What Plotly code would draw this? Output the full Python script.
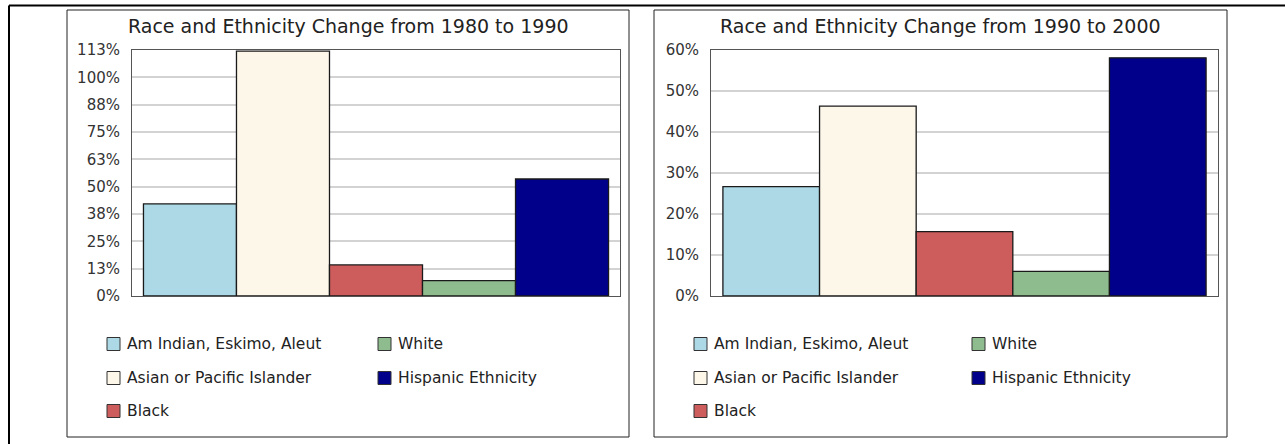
import plotly.graph_objects as go

# ---- data -------------------------------------------------------------
groups = ["Am Indian, Eskimo, Aleut", "Asian or Pacific Islander", "Black",
          "White", "Hispanic Ethnicity"]
colors = ["#ADD8E6", "#FDF7EA", "#CD5C5C", "#8FBC8F", "#00008B"]

change_1980_1990 = [42.1, 112.0, 14.2, 7.0, 53.5]
change_1990_2000 = [26.7, 46.3, 15.7, 6.0, 58.1]

ticks_1980_1990 = [0, 12.5, 25, 37.5, 50, 62.5, 75, 87.5, 100, 112.5]
ticklabels_1980_1990 = ["0%", "13%", "25%", "38%", "50%", "63%", "75%",
                        "88%", "100%", "113%"]
ticks_1990_2000 = [0, 10, 20, 30, 40, 50, 60]
ticklabels_1990_2000 = ["0%", "10%", "20%", "30%", "40%", "50%", "60%"]

titles = ["Race and Ethnicity Change from 1980 to 1990",
          "Race and Ethnicity Change from 1990 to 2000"]

# ---- page geometry (pixels) -------------------------------------------
W, H = 1285, 444
FONT = "DejaVu Sans"


def px(x):
    return x / W


def py(y):
    return 1 - y / H


fig = go.Figure()

panels = [
    dict(values=change_1980_1990, ticks=ticks_1980_1990,
         labels=ticklabels_1980_1990, rng=[0, 112.5],
         box=(67, 629), plot=(132, 620),
         leg_cols=(107, 378)),
    dict(values=change_1990_2000, ticks=ticks_1990_2000,
         labels=ticklabels_1990_2000, rng=[0, 60],
         box=(654, 1227), plot=(711, 1218),
         leg_cols=(694, 972)),
]

PLOT_TOP, PLOT_BOTTOM = 50, 296
BOX_TOP, BOX_BOTTOM = 10, 437

shapes = []
annotations = []

for i, p in enumerate(panels, start=1):
    xa = "x" if i == 1 else f"x{i}"
    ya = "y" if i == 1 else f"y{i}"
    for name, val, col in zip(groups, p["values"], colors):
        fig.add_trace(go.Bar(
            x=[""], y=[val], name=name, xaxis=xa, yaxis=ya,
            marker=dict(color=col, line=dict(color="#1a1a1a", width=1.3)),
            showlegend=False, hoverinfo="name+y",
        ))

    axis_common = dict(showline=True, mirror=True, linecolor="#555555",
                       linewidth=1, zeroline=False, automargin=False)
    fig.update_layout(**{
        ("xaxis" if i == 1 else f"xaxis{i}"): dict(
            domain=[px(p["plot"][0]), px(p["plot"][1])],
            anchor=ya, range=[-0.5, 0.5], showticklabels=False,
            showgrid=False, fixedrange=True, **axis_common),
        ("yaxis" if i == 1 else f"yaxis{i}"): dict(
            domain=[py(PLOT_BOTTOM), py(PLOT_TOP)],
            anchor=xa, range=p["rng"], tickmode="array",
            tickvals=p["ticks"], ticktext=p["labels"],
            showgrid=True, gridcolor="#D3D3D3", gridwidth=1.5,
            ticks="", ticklabelstandoff=8,
            tickfont=dict(family=FONT, size=15, color="#333333"),
            fixedrange=True, **axis_common),
    })

    # panel frame
    x0, x1 = p["box"]
    shapes.append(dict(type="rect", xref="paper", yref="paper",
                       x0=px(x0), x1=px(x1), y0=py(BOX_BOTTOM), y1=py(BOX_TOP),
                       line=dict(color="#222222", width=1), layer="below"))
    # title
    annotations.append(dict(text=titles[i - 1], xref="paper", yref="paper",
                            x=px((x0 + x1) / 2), y=py(26), showarrow=False,
                            xanchor="center", yanchor="middle",
                            font=dict(family=FONT, size=19, color="#222222")))

    # legend: two columns, filled column by column
    rows = [344, 378, 411]
    for k, (name, col) in enumerate(zip(groups, colors)):
        c, r = divmod(k, 3)
        sx = p["leg_cols"][c]
        sy = rows[r]
        shapes.append(dict(type="rect", xref="paper", yref="paper",
                           x0=px(sx), x1=px(sx + 13),
                           y0=py(sy + 6.5), y1=py(sy - 6.5),
                           fillcolor=col, line=dict(color="#333333", width=1)))
        annotations.append(dict(text=name, xref="paper", yref="paper",
                                x=px(sx + 18), y=py(sy), showarrow=False,
                                xanchor="left", yanchor="middle",
                                font=dict(family=FONT, size=15.5,
                                          color="#222222")))

# outer page frame (top and left edges)
shapes.append(dict(type="line", xref="paper", yref="paper",
                   x0=px(9), x1=1, y0=py(5.5), y1=py(5.5),
                   line=dict(color="black", width=2)))
shapes.append(dict(type="line", xref="paper", yref="paper",
                   x0=px(9), x1=px(9), y0=py(5.5), y1=0,
                   line=dict(color="black", width=2)))

fig.update_layout(
    width=W, height=H,
    margin=dict(l=0, r=0, t=0, b=0, autoexpand=False),
    paper_bgcolor="white", plot_bgcolor="white",
    barmode="group", bargap=0.047, bargroupgap=0,
    showlegend=False, shapes=shapes, annotations=annotations,
    font=dict(family=FONT),
)

fig.write_html("out.html")
